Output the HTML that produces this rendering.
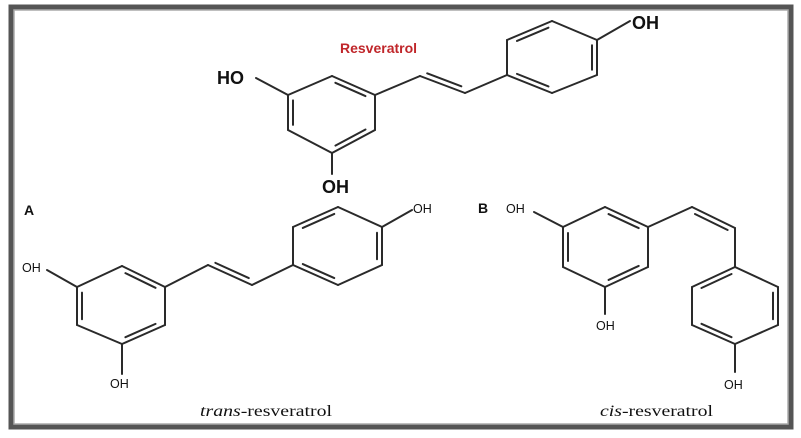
<!DOCTYPE html>
<html><head><meta charset="utf-8">
<style>
html,body{margin:0;padding:0;background:#fff;}
svg{display:block;}
text{font-family:"Liberation Sans",sans-serif;}
</style></head>
<body>
<svg id="s" width="801" height="438" viewBox="0 0 801 438" xmlns="http://www.w3.org/2000/svg">
<rect x="0" y="0" width="801" height="438" fill="#fff"/>
<rect x="11" y="7" width="780" height="420" fill="none" stroke="#555" stroke-width="5"/>
<rect x="14" y="10" width="774" height="414" fill="none" stroke="#aaa" stroke-width="1.5"/>
<g id="g" stroke="#2a2a2a" stroke-width="2" fill="none" stroke-linecap="round"></g>
<text x="340" y="53" font-size="14" font-weight="bold" fill="#c0262a">Resveratrol</text>
<text x="217" y="84" font-size="18" font-weight="bold" fill="#111">HO</text>
<text x="322" y="193" font-size="18" font-weight="bold" fill="#111">OH</text>
<text x="632" y="29" font-size="18" font-weight="bold" fill="#111">OH</text>
<text x="24" y="215" font-size="14" font-weight="bold" fill="#111">A</text>
<text x="22" y="272" font-size="12.5" fill="#111">OH</text>
<text x="110" y="388" font-size="12.5" fill="#111">OH</text>
<text x="413" y="213" font-size="12.5" fill="#111">OH</text>
<text x="200" y="416" font-size="16" fill="#111" textLength="132" lengthAdjust="spacingAndGlyphs" style="font-family:'Liberation Serif',serif"><tspan font-style="italic">trans</tspan>-resveratrol</text>
<text x="478" y="213" font-size="14" font-weight="bold" fill="#111">B</text>
<text x="506" y="213" font-size="12.5" fill="#111">OH</text>
<text x="596" y="330" font-size="12.5" fill="#111">OH</text>
<text x="724" y="389" font-size="12.5" fill="#111">OH</text>
<text x="600" y="416" font-size="16" fill="#111" textLength="113" lengthAdjust="spacingAndGlyphs" style="font-family:'Liberation Serif',serif"><tspan font-style="italic">cis</tspan>-resveratrol</text>
</svg>
<script>
var g=document.getElementById('g'),NS='http://www.w3.org/2000/svg';
function L(a,b){var l=document.createElementNS(NS,'line');l.setAttribute('x1',a[0]);l.setAttribute('y1',a[1]);l.setAttribute('x2',b[0]);l.setAttribute('y2',b[1]);g.appendChild(l);}
function inner(a,b,c){var mx=(a[0]+b[0])/2,my=(a[1]+b[1])/2;var dx=c[0]-mx,dy=c[1]-my,d=Math.hypot(dx,dy);var ox=dx/d*5,oy=dy/d*5;var s=0.15;
L([a[0]+(b[0]-a[0])*s+ox,a[1]+(b[1]-a[1])*s+oy],[b[0]-(b[0]-a[0])*s+ox,b[1]-(b[1]-a[1])*s+oy]);}
function ring(p,dbl){var c=[0,0];p.forEach(function(q){c[0]+=q[0]/6;c[1]+=q[1]/6;});for(var i=0;i<6;i++){L(p[i],p[(i+1)%6]);}dbl.forEach(function(i){inner(p[i],p[(i+1)%6],c);});}
function dbond(a,b,side){var dx=b[0]-a[0],dy=b[1]-a[1],d=Math.hypot(dx,dy);var nx=-dy/d*5*side,ny=dx/d*5*side;var s=0.12;
L(a,b);L([a[0]+dx*s+nx,a[1]+dy*s+ny],[b[0]-dx*s+nx,b[1]-dy*s+ny]);}
ring([[332,76],[375,95],[375,130],[332,153],[288,130],[288,95]],[0,2,4]);
L([288,95],[256,78]);L([332,153],[332,174]);
L([375,95],[420,76]);dbond([420,76],[465,93],-1);L([465,93],[507,75]);
ring([[507,40],[552,21],[597,40],[597,75],[552,93],[507,75]],[0,2,4]);
L([597,40],[630,21]);
ring([[122,266],[165,287],[165,325],[122,344],[77,325],[77,287]],[0,2,4]);
L([77,287],[47,270]);L([122,344],[122,374]);
L([165,287],[208,265]);dbond([208,265],[252,285],-1);L([252,285],[293,265]);
ring([[293,227],[338,207],[382,227],[382,265],[338,285],[293,265]],[0,2,4]);
L([382,227],[412,210]);
ring([[605,207],[648,227],[648,267],[605,287],[563,267],[563,227]],[0,2,4]);
L([563,227],[534,212]);L([605,287],[605,314]);
L([648,227],[692,207]);dbond([692,207],[735,228],1);L([735,228],[735,267]);
ring([[692,287],[735,267],[778,287],[778,325],[735,344],[692,325]],[0,2,4]);
L([735,344],[735,372]);
</script>
</body></html>
